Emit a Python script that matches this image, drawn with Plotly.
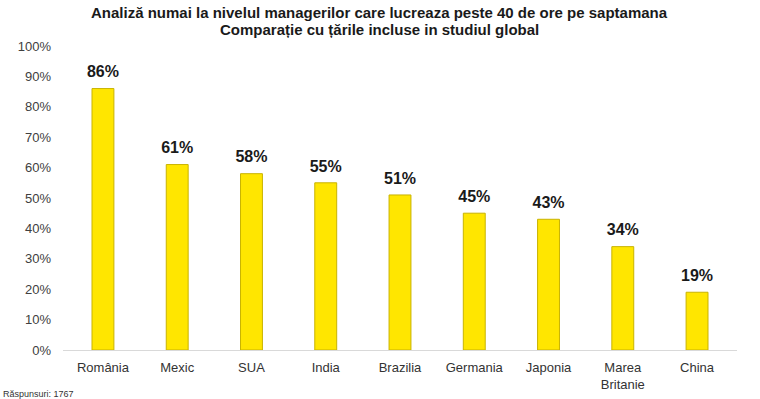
import plotly.graph_objects as go

countries = ["România", "Mexic", "SUA", "India", "Brazilia", "Germania", "Japonia", "Marea<br>Britanie", "China"]
values = [86, 61, 58, 55, 51, 45, 43, 34, 19]
labels = [f"{v}%" for v in values]
tick_vals = [0, 10, 20, 30, 40, 50, 60, 70, 80, 90, 100]
tick_text = [f"{v}%" for v in tick_vals]

title_line1 = "Analiză numai la nivelul managerilor care lucreaza peste 40 de ore pe saptamana"
title_line2 = "Comparație cu țările incluse in studiul global"
note = "Răspunsuri: 1767"

fig = go.Figure()
fig.add_trace(go.Bar(
    x=countries, y=values,
    marker=dict(color="#FFE600", line=dict(color="#C9B300", width=1)),
    width=0.295, hoverinfo="x+y",
))
fig.add_trace(go.Scatter(
    x=countries, y=values, text=labels, mode="markers+text", textposition="top center",
    texttemplate="<b>%{text}</b>",
    marker=dict(size=10, color="rgba(0,0,0,0)"),
    textfont=dict(family="Arial, Liberation Sans", size=16, color="#1a1a1a"),
    cliponaxis=False, hoverinfo="skip",
))

fig.update_layout(
    width=760, height=399,
    margin=dict(l=63, r=23, t=46, b=49, autoexpand=False),
    paper_bgcolor="white", plot_bgcolor="white",
    font=dict(family="Arial, Liberation Sans", color="#404040"),
    showlegend=False,
    annotations=[
        dict(text="<b>" + title_line1 + "</b>", xref="paper", yref="paper", x=(379 - 63) / 674, y=1.0,
             yshift=34, xanchor="center", yanchor="middle", showarrow=False,
             font=dict(size=15, color="#1a1a1a")),
        dict(text="<b>" + title_line2 + "</b>", xref="paper", yref="paper", x=(379 - 63) / 674, y=1.0,
             yshift=17, xanchor="center", yanchor="middle", showarrow=False,
             font=dict(size=15, color="#1a1a1a")),
        dict(text=note, xref="paper", yref="paper", x=0, y=0, xshift=-62, yshift=-37,
             xanchor="left", yanchor="top", showarrow=False,
             font=dict(size=9, color="#333333")),
    ],
)
fig.update_yaxes(range=[0, 100], tickvals=tick_vals, ticktext=tick_text, showgrid=False,
                 zeroline=False, showline=False, ticks="", ticklabelstandoff=11,
                 automargin=False, tickfont=dict(size=13, color="#404040"))
fig.update_xaxes(showline=True, linecolor="#D9D9D9", linewidth=1, ticks="",
                 ticklabelstandoff=5, automargin=False,
                 tickfont=dict(size=13, color="#333333"))

fig.write_html("out.html", config={"displayModeBar": False},
               post_script="document.body.style.margin='0';")
